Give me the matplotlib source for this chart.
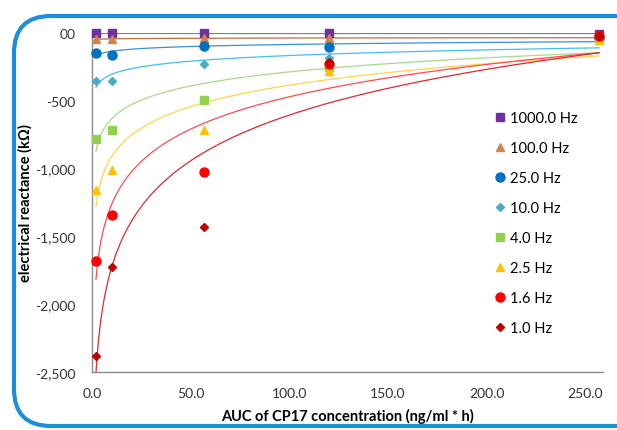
import numpy as np
import matplotlib
matplotlib.use("Agg")
import matplotlib.pyplot as plt
from matplotlib.patches import FancyBboxPatch
from matplotlib.ticker import FuncFormatter

plt.rcParams['font.family'] = ['Lato', 'DejaVu Sans']

auc = [2.0, 10.0, 57.0, 120.0, 257.0]
labels = ["1000.0 Hz", "100.0 Hz", "25.0 Hz", "10.0 Hz", "4.0 Hz", "2.5 Hz", "1.6 Hz", "1.0 Hz"]
hz1000 = [-3, -3, -3, -3, -5]
hz100 = [-45, -45, -40, -40, -30]
hz25 = [-150, -160, -95, -100, -40]
hz10 = [-355, -355, -225, -185, -50]
hz4 = [-780, -715, -495, -250, -40]
hz2_5 = [-1160, -1010, -715, -280, -50]
hz1_6 = [-1680, -1340, -1025, -230, -20]
hz1_0 = [-2385, -1725, -1430, -215, -20]
series = [hz1000, hz100, hz25, hz10, hz4, hz2_5, hz1_6, hz1_0]

markers = ['s', '^', 'o', 'D', 's', '^', 'o', 'D']
msizes = [6, 6, 6.5, 4.5, 6, 6, 6.5, 4.5]
mcolors = ['#7030a0', '#d0844a', '#0070c0', '#4bacc6', '#92d050', '#ffc000', '#ff0000', '#c00000']
lcolors = ['#7f7f7f', '#c0703a', '#3a8fd6', '#45bdf0', '#a9d98b', '#ffd34f', '#ff4a4a', '#e02a2a']

fig = plt.figure(figsize=(6.17, 4.31), dpi=100)
ax = fig.add_axes([92/617, 1-373/431, (603-92)/617, (373-34)/431])

xs = np.linspace(auc[0], auc[-1], 400)
for vals, lc in zip(series, lcolors):
    a, b = np.polyfit(np.log(auc), vals, 1)
    ax.plot(xs, a*np.log(xs) + b, color=lc, lw=0.9, zorder=2)

for vals, m, ms, mc, lab in zip(series, markers, msizes, mcolors, labels):
    ax.plot(auc, vals, linestyle='none', marker=m, markersize=ms, color=mc,
            markeredgecolor=mc, label=lab, zorder=3, clip_on=False)

ax.set_xlim(0, 259)
ax.set_ylim(-2500, 0)
ax.set_xticks([0, 50, 100, 150, 200, 250])
ax.set_yticks([0, -500, -1000, -1500, -2000, -2500])
ax.xaxis.set_major_formatter(FuncFormatter(lambda v, p: f"{v:.1f}"))
ax.yaxis.set_major_formatter(FuncFormatter(lambda v, p: "00" if v == 0 else f"{int(v):,}"))
ax.tick_params(length=0, labelsize=10, colors='#333333')
ax.tick_params(axis='y', pad=12)
ax.tick_params(axis='x', pad=11)
for s in ['top', 'right']:
    ax.spines[s].set_visible(False)
for s in ['left', 'bottom']:
    ax.spines[s].set_color('#8c8c8c')
    ax.spines[s].set_linewidth(1.0)

ax.set_xlabel("AUC of CP17 concentration (ng/ml * h)", fontsize=10.5, fontweight='bold', labelpad=6)
ax.set_ylabel("electrical reactance (kΩ)", fontsize=10.5, fontweight='bold')
ax.yaxis.set_label_coords((33-92)/511, 0.5)

leg = ax.legend(loc='upper left', bbox_to_anchor=(487/617, 1-106/431), bbox_transform=fig.transFigure,
                frameon=False, fontsize=10.5, labelspacing=1.1, handletextpad=0.2,
                handlelength=1.0, borderaxespad=0)

frame = FancyBboxPatch((14/617, 4/431), (680-14)/617, (414-4)/431,
                       boxstyle="round,pad=0,rounding_size=0.06",
                       transform=fig.transFigure, fill=False, edgecolor='#1b8fd8', lw=3.0,
                       mutation_aspect=617/431, clip_on=False)
fig.patches.append(frame)

fig.savefig("out.png", dpi=100)
